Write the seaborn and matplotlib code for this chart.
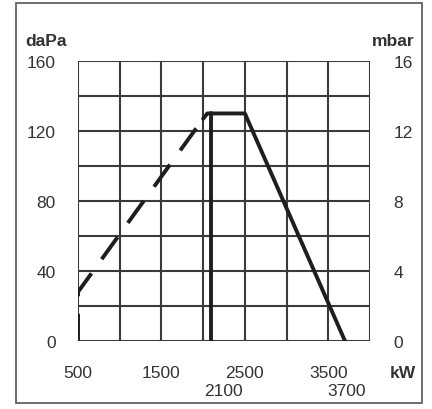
import matplotlib.pyplot as plt
import matplotlib.patches as patches
import seaborn as sns
import pandas as pd

# Curva di lavoro (kW, daPa)
dash_kw = [500, 500, 2000]
dash_dapa = [0, 28, 127]
solid_kw = [2000, 2050, 2500, 3700]
solid_dapa = [127, 130, 130, 0]
vert_kw = [2100, 2100]
vert_dapa = [0, 130]

x_ticks = [500, 1500, 2500, 3500]
x_extra = [2100, 3700]
y_ticks_dapa = [0, 40, 80, 120, 160]
y_ticks_mbar = [0, 4, 8, 12, 16]

sns.set_style('white')
plt.rcParams['font.family'] = ['Liberation Sans', 'DejaVu Sans']
ink = '#1e1e1e'
txt = '#333333'
fs = 12.5

fig = plt.figure(figsize=(4.32, 4.10), dpi=100)
ax = fig.add_axes([0.1806, 0.1659, 0.6759, 0.683])

# griglia
for gx in range(500, 4001, 500):
    ax.axvline(gx, color='#3a3a3a', lw=1.5, zorder=1)
for gy in range(0, 161, 20):
    ax.axhline(gy, color='#3a3a3a', lw=1.5, zorder=1)

df_dash = pd.DataFrame({'kW': dash_kw, 'daPa': dash_dapa})
df_solid = pd.DataFrame({'kW': solid_kw, 'daPa': solid_dapa})
df_vert = pd.DataFrame({'kW': vert_kw, 'daPa': vert_dapa})

sns.lineplot(data=df_dash, x='kW', y='daPa', ax=ax, sort=False, estimator=None,
             color=ink, lw=2.8, zorder=3)
ax.lines[-1].set_dashes([7, 4.5])
sns.lineplot(data=df_solid, x='kW', y='daPa', ax=ax, sort=False, estimator=None,
             color=ink, lw=2.8, zorder=3)
sns.lineplot(data=df_vert, x='kW', y='daPa', ax=ax, sort=False, estimator=None,
             color=ink, lw=2.8, zorder=3)

ax.set_xlim(500, 4000)
ax.set_ylim(0, 160)
ax.set_xticks(x_ticks)
ax.set_xticklabels([str(v) for v in x_ticks])
ax.set_yticks(y_ticks_dapa)
ax.set_yticklabels([str(v) for v in y_ticks_dapa])
ax.tick_params(axis='both', length=0, labelsize=fs, colors=txt)
ax.tick_params(axis='x', pad=17)
ax.tick_params(axis='y', pad=16)
ax.set_xlabel('')
ax.set_ylabel('')
for s in ax.spines.values():
    s.set_visible(False)

ax2 = ax.twinx()
ax2.set_ylim(0, 16)
ax2.set_yticks(y_ticks_mbar)
ax2.set_yticklabels([str(v) for v in y_ticks_mbar])
ax2.tick_params(axis='y', length=0, labelsize=fs, colors=txt, pad=17)
for s in ax2.spines.values():
    s.set_visible(False)

# seconda riga etichette
for v in x_extra:
    off = 12 if v == 2100 else 2
    ax.annotate(str(v), xy=(v, 0), xycoords=('data', 'axes fraction'),
                xytext=(off, -50), textcoords='offset pixels', ha='center', va='center',
                fontsize=fs, color=txt)

fig.text(46 / 432, 1 - 41 / 410, 'daPa', ha='center', va='center', fontsize=fs,
         fontweight='bold', color=txt)
fig.text(393 / 432, 1 - 41 / 410, 'mbar', ha='center', va='center', fontsize=fs,
         fontweight='bold', color=txt)
fig.text(403 / 432, 1 - 374 / 410, 'kW', ha='center', va='center', fontsize=fs,
         fontweight='bold', color=txt)

fig.patches.append(patches.Rectangle((16 / 432, 1 - 404 / 410), 406 / 432, 400 / 410,
                                     transform=fig.transFigure, fill=False,
                                     edgecolor='#555555', lw=1.2))

fig.savefig('out.png', dpi=100)
